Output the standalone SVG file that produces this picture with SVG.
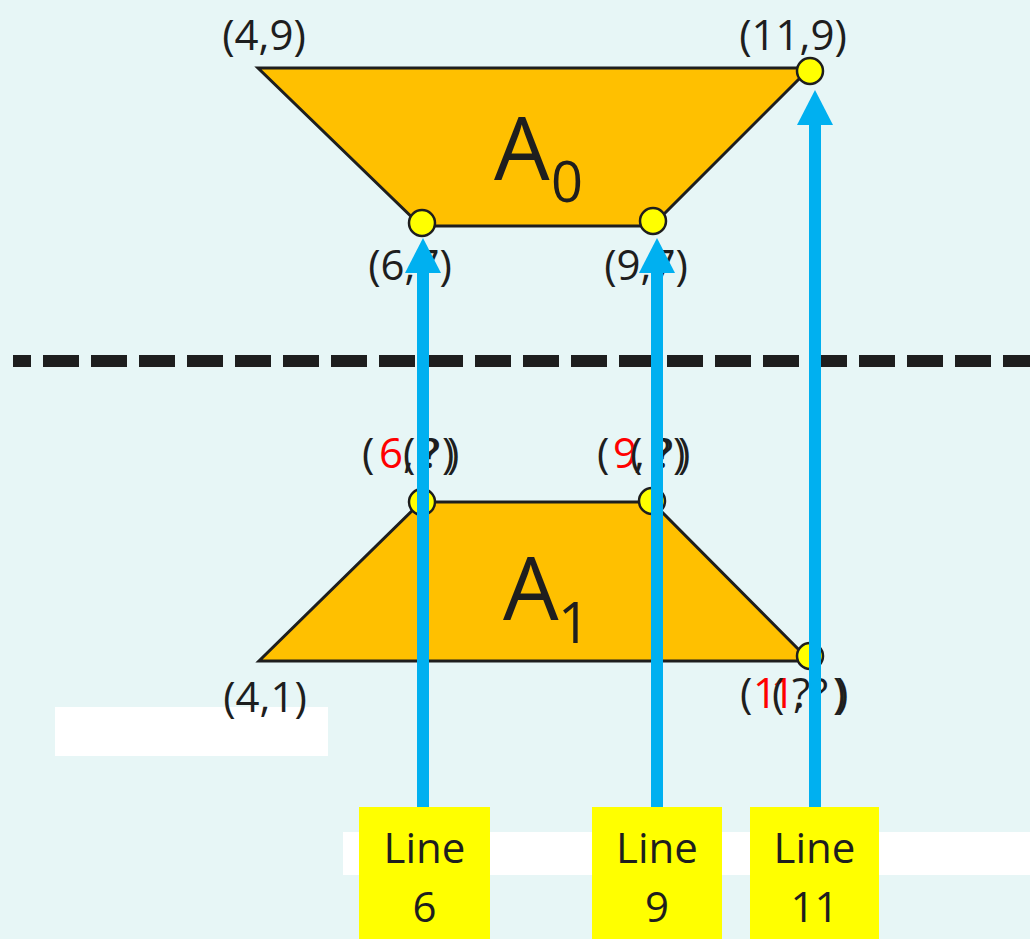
<svg xmlns="http://www.w3.org/2000/svg" width="1030" height="939" viewBox="0 0 1030 939">
<style>
.lbl{font-family:"Open Sans","Liberation Sans",sans-serif;font-size:42px;fill:#1e1e1e}
.red{fill:#ff0000}
.big{font-family:"Open Sans","Liberation Sans",sans-serif;font-size:88px;fill:#1e1e1e}
.sub{font-size:56px}
.trap{fill:#ffc000;stroke:#1e1e1e;stroke-width:3;stroke-linejoin:miter}
.pt{fill:#ffff00;stroke:#1e1e1e;stroke-width:2.5}
.box{fill:#ffff00}
.btxt{font-family:"Open Sans","Liberation Sans",sans-serif;font-size:42px;fill:#1e1e1e;text-anchor:middle}
.arrow{stroke:#00b0f0;stroke-width:12;fill:none;marker-end:url(#ah)}
</style>
<defs>
<marker id="ah" viewBox="0 0 35 36" refX="0" refY="18" markerWidth="35" markerHeight="36" markerUnits="userSpaceOnUse" orient="auto">
<path d="M0,0 L35,18 L0,36 z" fill="#00b0f0"/>
</marker>
</defs>
<rect x="0" y="0" width="1030" height="939" fill="#e7f6f6"/>
<rect x="55" y="707" width="273" height="49" fill="#ffffff"/>
<rect x="343" y="832" width="687" height="43" fill="#ffffff"/>
<line x1="13" y1="361" x2="1030" y2="361" stroke="#1e1e1e" stroke-width="12" stroke-dasharray="36 12" stroke-dashoffset="18"/>

<g id="A0">
<polygon class="trap" points="258,68 810,68 652,226 421,226"/>
<text class="big" x="494" y="180">A<tspan class="sub" x="551" y="202">0</tspan></text>
</g>
<g id="A1">
<polygon class="trap" points="421,502 652,502 810,661 259,661"/>
<text class="big" x="503" y="620">A<tspan class="sub" x="558" y="643">1</tspan></text>
</g>

<g id="p-4-9"><text class="lbl" x="264" y="50" text-anchor="middle">(4,9)</text></g>
<g id="p-11-9"><circle class="pt" cx="810" cy="71" r="13"/><text class="lbl" x="793" y="50" text-anchor="middle">(11,9)</text></g>
<g id="p-6-7"><circle class="pt" cx="422" cy="223" r="13"/><text class="lbl" x="410" y="280" text-anchor="middle">(6,7)</text></g>
<g id="p-9-7"><circle class="pt" cx="653" cy="221" r="13"/><text class="lbl" x="646" y="280" text-anchor="middle">(9,7)</text></g>
<g id="p-4-1"><text class="lbl" x="265" y="712" text-anchor="middle">(4,1)</text></g>
<g id="p-6-q"><circle class="pt" cx="422" cy="502" r="13"/>
<text class="lbl" x="362 379 403 420 442" y="468">(<tspan class="red">6</tspan>,?)</text>
<text class="lbl" x="403 422 447" y="468">(?)</text>
</g>
<g id="p-9-q"><circle class="pt" cx="652" cy="501" r="13"/>
<text class="lbl" x="597 613 634 652 673" y="468">(<tspan class="red">9</tspan>,?)</text>
<text class="lbl" x="630 655 678" y="468">(?)</text>
</g>
<g id="p-11-q"><circle class="pt" cx="810" cy="656" r="13"/>
<text class="lbl" x="740 753 771 793 810 833" y="708">(<tspan class="red">11</tspan>,?)</text>
<text class="lbl" x="772 792 836" y="708">(?)</text>
</g>

<g id="connectors">
<line class="arrow" x1="423" y1="808" x2="423" y2="273"/>
<line class="arrow" x1="657" y1="808" x2="657" y2="273"/>
<line class="arrow" x1="815" y1="808" x2="815" y2="125"/>
</g>

<g id="line6"><rect class="box" x="359" y="807" width="131" height="132"/><text class="btxt" x="424.5" y="863">Line</text><text class="btxt" x="424.5" y="922">6</text></g>
<g id="line9"><rect class="box" x="592" y="807" width="130" height="132"/><text class="btxt" x="657" y="863">Line</text><text class="btxt" x="657" y="922">9</text></g>
<g id="line11"><rect class="box" x="750" y="807" width="129" height="132"/><text class="btxt" x="814.5" y="863">Line</text><text class="btxt" x="814.5" y="922">11</text></g>
</svg>
